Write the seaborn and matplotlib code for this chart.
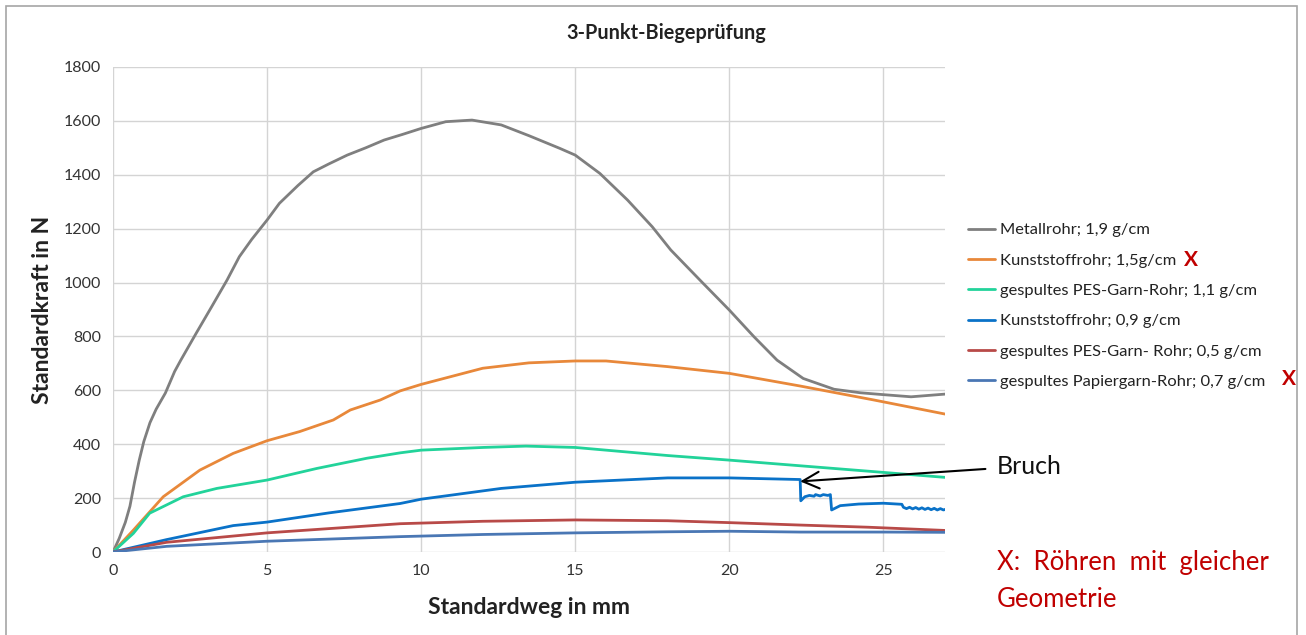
""" 3-point bending test: force over displacement for several tubes. """
import numpy as np
import pandas as pd
import seaborn as sns
import matplotlib.pyplot as plt
from matplotlib.patches import Rectangle

# --- data (x in mm, y in N) ---
metall_x = [0, 0.2, 0.4, 0.55, 0.7, 0.85, 1.0, 1.2, 1.4, 1.7, 2.0, 2.2, 2.7, 3.2, 3.7, 4.1, 4.5,
            5.0, 5.4, 6.0, 6.5, 7.0, 7.6, 8.2, 8.8, 9.4, 10.0, 10.8, 11.65, 12.6, 13.5, 14.5, 15.0,
            15.8, 16.7, 17.5, 18.1, 19.1, 20.0, 20.8, 21.55, 22.4, 23.4, 24.25, 25.0, 25.9, 27.0]
metall_y = [0, 50, 110, 170, 260, 340, 410, 480, 530, 590, 670, 712, 812, 910, 1009, 1096, 1160,
            1232, 1294, 1360, 1411, 1440, 1473, 1500, 1529, 1550, 1572, 1597, 1603, 1585, 1545, 1498, 1473,
            1405, 1306, 1207, 1121, 1003, 898, 799, 712, 644, 604, 591, 584, 576, 586]

kunst15_x = [0, 0.66, 1.63, 2.82, 3.9, 5.0, 6.06, 7.15, 7.7, 8.67, 9.32, 10.0, 12.0, 13.5, 15.0,
             16.0, 18.0, 20.0, 22.3, 24.7, 27.0]
kunst15_y = [0, 81, 205, 304, 366, 413, 447, 490, 527, 564, 598, 622, 682, 702, 709,
             709, 688, 663, 616, 564, 512]

pes11_x = [0, 0.66, 1.19, 2.28, 3.37, 5.0, 6.61, 8.24, 9.32, 10.0, 12.0, 13.4, 15.0, 18.0, 20.0,
           22.3, 24.5, 27.0]
pes11_y = [0, 69, 144, 205, 236, 267, 310, 348, 368, 378, 388, 393, 388, 358, 341,
           320, 300, 277]

kunst09_x = [0, 1.74, 3.9, 5.0, 7.0, 9.32, 10.0, 12.6, 15.0, 18.0, 20.0, 22.3,
             22.32, 22.45, 22.6, 22.75, 22.8, 22.95, 23.05, 23.2, 23.28,
             23.32, 23.6, 24.2, 25.0, 25.6,
             25.65, 25.75, 25.85, 25.95, 26.05, 26.15, 26.25, 26.35, 26.45, 26.55,
             26.65, 26.75, 26.85, 26.95, 27.0]
kunst09_y = [0, 46, 98, 111, 145, 180, 196, 236, 259, 275, 275, 269,
             190, 205, 210, 207, 213, 208, 213, 210, 213,
             156, 172, 178, 181, 177,
             166, 161, 166, 160, 165, 159, 164, 158, 163, 157,
             162, 156, 161, 156, 158]

pes05_x = [0, 1.74, 5.0, 9.32, 12.0, 15.0, 18.0, 20.0, 22.3, 24.5, 27.0]
pes05_y = [0, 36, 71, 105, 114, 119, 116, 109, 100, 92, 80]

papier_x = [0, 1.74, 5.0, 9.32, 12.0, 15.0, 18.0, 20.0, 22.3, 25.0, 27.0]
papier_y = [0, 21, 40, 57, 65, 71, 75, 77, 74, 74, 73]

labels = ["Metallrohr; 1,9 g/cm",
          "Kunststoffrohr; 1,5g/cm",
          "gespultes PES-Garn-Rohr; 1,1 g/cm",
          "Kunststoffrohr; 0,9 g/cm",
          "gespultes PES-Garn- Rohr; 0,5 g/cm",
          "gespultes Papiergarn-Rohr; 0,7 g/cm"]
colors = ["#7F7F7F", "#E8883A", "#22D39A", "#0A72C8", "#B84A48", "#4A77B4"]
series = [(metall_x, metall_y), (kunst15_x, kunst15_y), (pes11_x, pes11_y),
          (kunst09_x, kunst09_y), (pes05_x, pes05_y), (papier_x, papier_y)]

frames = []
for lab, (xs, ys) in zip(labels, series):
    frames.append(pd.DataFrame({"weg": xs, "kraft": ys, "probe": lab, "idx": np.arange(len(xs))}))
df = pd.concat(frames, ignore_index=True)

sns.set_style("white")
plt.rcParams["font.family"] = ["Lato", "DejaVu Sans"]

fig = plt.figure(figsize=(13.06, 6.35), dpi=100)
ax = fig.add_axes([113 / 1306, 1 - 552 / 635, (945 - 113) / 1306, (552 - 67) / 635])

sns.lineplot(data=df, x="weg", y="kraft", hue="probe", hue_order=labels,
             palette=dict(zip(labels, colors)), estimator=None, sort=False,
             units="probe", linewidth=2.0, ax=ax)

ax.set_xlim(0, 27)
ax.set_ylim(0, 1800)
ax.set_xticks([0, 5, 10, 15, 20, 25])
ax.set_yticks(range(0, 1801, 200))
ax.grid(True, color="#D4D4D4", linewidth=1.0)
for s in ax.spines.values():
    s.set_visible(False)
ax.tick_params(axis="both", colors="#BFBFBF", length=5, width=1, labelcolor="#333333",
               labelsize=11.5)
ax.set_xlabel("Standardweg in mm", fontsize=16.5, fontweight="bold", color="#222222", labelpad=14)
ax.set_ylabel("Standardkraft in N", fontsize=16.5, fontweight="bold", color="#222222", labelpad=8)
fig.text(666 / 1306, 1 - 33 / 635, "3-Punkt-Biegeprüfung", ha="center", va="center",
         fontsize=14.3, fontweight="bold", color="#222222")

# legend on the right
handles, labs = ax.get_legend_handles_labels()
ax.legend(handles, labs, loc="upper left", bbox_to_anchor=(953 / 1306, 1 - 208 / 635),
          bbox_transform=fig.transFigure, frameon=False, fontsize=11.85, handlelength=1.65,
          handletextpad=0.3, labelspacing=0.96, labelcolor="#222222")

red = "#C00000"
fig.text(1191 / 1306, 1 - 260 / 635, "X", color=red, fontsize=15, fontweight="bold",
         ha="center", va="center")
fig.text(1289 / 1306, 1 - 379 / 635, "X", color=red, fontsize=15, fontweight="bold",
         ha="center", va="center")
fig.text(997 / 1306, 1 - 581 / 635, "X:  Röhren  mit  gleicher\nGeometrie", color=red,
         fontsize=18.5, ha="left", va="center", linespacing=1.6)

# "Bruch" annotation
ax.annotate("Bruch", xy=(22.3, 262), xytext=(997 / 1306, 1 - 466 / 635),
            textcoords="figure fraction", fontsize=18, color="#111111", va="center", ha="left",
            arrowprops=dict(arrowstyle="->", color="black", lw=1.5, mutation_scale=30,
                            shrinkA=6, shrinkB=0))

# chart frame
fig.patches.append(Rectangle((6 / 1306, -0.05), (1297 - 6) / 1306, 1.05 - 6 / 635,
                             transform=fig.transFigure, fill=False, edgecolor="#A6A6A6",
                             linewidth=1.2))

fig.savefig("out.png", dpi=100)
